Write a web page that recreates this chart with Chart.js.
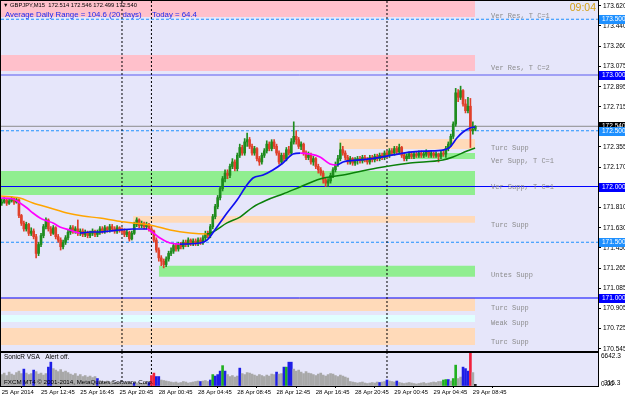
<!DOCTYPE html>
<html>
<head>
<meta charset="utf-8">
<title>GBPJPY,M15</title>
<script src="https://cdn.jsdelivr.net/npm/chart.js@4.4.1/dist/chart.umd.min.js"></script>
<style>
  body { margin: 0; background: #fff; }
  canvas { display: block; }
</style>
</head>
<body>
<canvas id="grafikHarga" width="625" height="352"></canvas>
<canvas id="grafikVolume" width="625" height="46"></canvas>
<script>
// Data candle M15 (index bar 0 = 25 Apr 08:45)
const firstOpen = 171.85;
const closes = [
  171.86,171.88,171.85,171.87,171.89,171.86,171.88,171.74,171.67,171.62,
  171.66,171.58,171.60,171.55,171.40,171.48,171.56,171.64,171.70,171.62,
  171.58,171.63,171.55,171.52,171.46,171.50,171.54,171.59,171.63,171.60,
  171.62,171.58,171.60,171.57,171.59,171.56,171.58,171.60,171.57,171.59,
  171.62,171.60,171.63,171.61,171.64,171.62,171.60,171.63,171.61,171.60,
  171.57,171.59,171.53,171.58,171.66,171.70,171.65,171.67,171.64,171.66,
  171.62,171.60,171.52,171.43,171.36,171.33,171.30,171.35,171.40,171.42,
  171.47,171.44,171.48,171.46,171.50,171.48,171.52,171.49,171.51,171.49,
  171.52,171.50,171.54,171.58,171.56,171.64,171.73,171.82,171.90,171.98,
  172.07,172.12,172.10,172.18,172.22,172.16,172.28,172.35,172.30,172.40,
  172.42,172.36,172.30,172.34,172.25,172.22,172.28,172.32,172.38,172.34,
  172.40,172.36,172.30,172.22,172.28,172.25,172.33,172.30,172.40,172.45,
  172.42,172.36,172.38,172.30,172.26,172.28,172.22,172.25,172.18,172.15,
  172.12,172.06,172.03,172.05,172.10,172.15,172.20,172.25,172.33,172.30,
  172.26,172.22,172.25,172.21,172.24,172.25,172.23,172.26,172.24,172.22,
  172.26,172.24,172.27,172.25,172.28,172.26,172.30,172.28,172.32,172.30,
  172.34,172.31,172.35,172.28,172.25,172.27,172.29,172.27,172.29,172.28,
  172.30,172.28,172.29,172.31,172.28,172.30,172.28,172.29,172.27,172.30,
  172.29,172.34,172.38,172.45,172.56,172.84,172.80,172.86,172.74,172.68,
  172.72,172.50,172.514,172.540
];
const highs = [
  171.89,171.90,171.89,171.89,171.91,171.90,171.90,171.89,171.75,171.69,
  171.68,171.67,171.63,171.62,171.57,171.50,171.58,171.66,171.72,171.71,
  171.64,171.65,171.64,171.57,171.54,171.52,171.56,171.61,171.65,171.65,
  171.64,171.70,171.62,171.62,171.61,171.60,171.60,171.62,171.61,171.61,
  171.64,171.64,171.65,171.64,171.66,171.66,171.64,171.65,171.64,171.63,
  171.62,171.61,171.60,171.60,171.68,171.72,171.71,171.69,171.68,171.68,
  171.67,171.64,171.61,171.54,171.45,171.38,171.35,171.37,171.42,171.45,
  171.49,171.49,171.50,171.50,171.52,171.52,171.54,171.53,171.53,171.53,
  171.54,171.54,171.56,171.60,171.60,171.66,171.75,171.84,171.92,172.00,
  172.09,172.15,172.15,172.20,172.25,172.24,172.30,172.38,172.37,172.43,
  172.48,172.44,172.38,172.36,172.35,172.27,172.30,172.34,172.41,172.40,
  172.42,172.42,172.38,172.32,172.30,172.30,172.35,172.36,172.43,172.58,
  172.50,172.44,172.40,172.39,172.32,172.31,172.30,172.27,172.26,172.20,
  172.17,172.14,172.08,172.07,172.12,172.17,172.22,172.28,172.39,172.36,
  172.32,172.28,172.27,172.26,172.26,172.27,172.27,172.28,172.28,172.26,
  172.28,172.28,172.29,172.29,172.30,172.30,172.32,172.32,172.34,172.34,
  172.36,172.36,172.38,172.36,172.30,172.29,172.31,172.31,172.31,172.31,
  172.32,172.32,172.31,172.33,172.32,172.32,172.31,172.31,172.30,172.32,
  172.33,172.36,172.40,172.47,172.58,172.88,172.87,172.90,172.87,172.78,
  172.80,172.79,172.58,172.546
];
const lows = [
  171.83,171.85,171.83,171.84,171.86,171.84,171.85,171.72,171.65,171.60,
  171.60,171.56,171.56,171.53,171.36,171.38,171.46,171.54,171.62,171.60,
  171.56,171.57,171.53,171.50,171.43,171.44,171.48,171.52,171.57,171.58,
  171.58,171.56,171.56,171.55,171.55,171.54,171.54,171.56,171.55,171.55,
  171.57,171.58,171.58,171.59,171.59,171.60,171.58,171.58,171.59,171.58,
  171.55,171.55,171.51,171.52,171.57,171.64,171.63,171.63,171.62,171.62,
  171.60,171.58,171.50,171.41,171.33,171.29,171.27,171.28,171.33,171.38,
  171.40,171.42,171.42,171.44,171.44,171.46,171.46,171.47,171.47,171.47,
  171.47,171.48,171.48,171.52,171.54,171.54,171.62,171.71,171.80,171.88,
  171.96,172.04,172.07,172.08,172.16,172.14,172.14,172.26,172.28,172.28,
  172.36,172.34,172.28,172.28,172.23,172.19,172.20,172.26,172.30,172.32,
  172.32,172.34,172.28,172.20,172.20,172.23,172.23,172.28,172.28,172.38,
  172.38,172.34,172.33,172.28,172.24,172.24,172.20,172.19,172.16,172.12,
  172.10,172.03,172.00,172.00,172.03,172.08,172.13,172.18,172.23,172.28,
  172.24,172.20,172.20,172.19,172.19,172.20,172.21,172.21,172.22,172.20,
  172.20,172.22,172.22,172.23,172.23,172.24,172.24,172.26,172.26,172.28,
  172.28,172.29,172.29,172.26,172.23,172.23,172.25,172.25,172.25,172.26,
  172.26,172.26,172.26,172.27,172.26,172.26,172.26,172.26,172.22,172.25,
  172.27,172.26,172.32,172.36,172.43,172.54,172.76,172.78,172.72,172.66,
  172.66,172.35,172.47,172.499
];

// Volume SonicR VSA
const volumes = [
  2300,2600,2100,2800,2400,2200,2700,3000,2500,3400,
  2600,2300,2500,3200,2900,2400,2600,2200,2500,3800,
  4800,3500,3200,2900,3300,2800,3000,2700,2400,2200,
  2500,2000,2300,1900,2100,1800,2000,1700,1900,1500,
  1100,900,800,1000,700,900,600,800,700,500,
  600,800,700,500,600,600,700,500,600,700,
  700,2100,2600,1900,1900,1200,1100,1000,900,800,
  700,800,600,700,900,800,600,700,800,900,
  1000,900,1000,1100,900,1200,2300,2000,2300,3000,
  4100,3000,2300,1900,2100,1800,2000,3600,2500,2300,
  2700,2600,2400,2200,2000,2300,2100,1900,2200,2000,
  2400,2300,2800,2400,2500,3800,3800,4800,4800,3400,
  3000,3200,2800,2500,2900,2600,2500,2300,2100,2400,
  2600,2200,2000,2300,2500,2400,2100,1900,2200,2000,
  1800,1600,900,800,700,600,700,800,600,500,
  600,700,600,800,700,800,900,1200,1000,900,
  800,1000,700,600,500,600,700,600,500,400,
  500,600,700,500,600,700,800,700,900,900,
  1200,1300,1300,1000,1500,4200,1500,1800,3800,3500,
  3000,6642.3,2700,316.3
];
// g = biasa, b = biru, n = hijau, r = merah, k = bar berjalan
const volKinds = [
  'gggggggggb','gggbgggggb','bggggggggg','gggggggggb','gggggggggg',
  'ggggbggggg','brrbbggggg','gggggggggg','gbgggbnbbb','nbgggggbgg',
  'gggggggggg','ggbggbnbbg','gggggggggg','gggggggggg','gggggggggg',
  'ggggbggbgg','gbgggggggg','gggggggggg','nnbgnnggbb','brgk'
].join('');
const volMax = 6642.3;

// Moving average
const fastMaBars = [-0.3,4.6,7.4,10.3,12.7,15.6,18.4,20.9,23.7,27.8,31.9,36.0,40.0,44.1,48.2,53.5,59.2,61.2,64.5,68.6,72.6,80.8,83.6,87.7,91.8,95.9,99.9,102.4,106.5,110.5,114.6,118.7,121.6,125.6,129.7,133.8,136.6,139.1,146.0,152.9,159.5,166.4,173.3,179.8,182.7,185.5,188.0,190.8,192.9];
const fastMaVals = [171.897,171.888,171.852,171.807,171.762,171.717,171.691,171.673,171.637,171.610,171.583,171.592,171.592,171.601,171.610,171.619,171.619,171.592,171.538,171.493,171.484,171.493,171.520,171.637,171.762,171.879,172.013,172.076,172.103,172.148,172.211,172.291,172.300,172.291,172.265,172.202,172.193,172.220,172.238,172.256,172.283,172.309,172.318,172.327,172.354,172.435,172.489,172.525,172.534];
const slowMaBars = [-0.3,7.4,12.7,19.7,26.6,33.1,40.0,47.0,53.5,60.4,68.6,76.7,83.6,86.1,91.8,97.1,102.4,108.1,114.6,121.6,129.7,139.1,152.9,166.4,179.8,183.9,189.6,192.9];
const slowMaVals = [171.915,171.897,171.852,171.807,171.762,171.735,171.717,171.691,171.673,171.655,171.610,171.583,171.574,171.592,171.673,171.726,171.816,171.879,171.933,171.996,172.067,172.103,172.166,172.211,172.238,172.265,172.318,172.345];

// Zona support / resistance
const zoneLow   = [173.52, 173.036, 172.336, 172.247, 171.924, 171.675, 171.19, 170.883, 170.785, 170.578];
const zoneHigh  = [173.70, 173.179, 172.426, 172.300, 172.140, 171.735, 171.29, 171.000, 170.848, 170.731];
const zoneStart = [-0.3, -0.3, 137.5, 163.5, -0.3, 53.5, 64.0, -0.3, -0.3, -0.3];
const zoneEnd   = 192.9;
const zoneColor = ['#FFC0CB','#FFC0CB','#FFDAB9','#90EE90','#90EE90','#FFDAB9','#90EE90','#FFDAB9','#E0FFFF','#FFDAB9'];
const zoneLabelText  = ['Ver Res, T C=1','Ver Res, T C=2','Turc Supp','Ver Supp, T C=1','Ver Supp, T C=1','Turc Supp','Untes Supp','Turc Supp','Weak Supp','Turc Supp'];
const zoneLabelPrice = [173.529, 173.063, 172.345, 172.229, 171.996, 171.655, 171.206, 170.906, 170.776, 170.605];

// Garis level harga
const levelPrices = [173.5, 173.0, 172.5, 172.0, 171.5, 171.0];
const levelSolid  = [false, true, false, true, false, true];
const bidPrice = 172.540;

const priceTicks = [173.620,173.440,173.260,173.075,172.895,172.715,172.535,172.355,172.170,171.990,171.810,171.630,171.450,171.265,171.085,170.905,170.725,170.545];
const priceMarks = [172.540, 173.5, 173.0, 172.5, 172.0, 171.5, 171.0];
const priceMarkColor = ['#000000','#1E90FF','#0000FF','#1E90FF','#0000FF','#1E90FF','#0000FF'];

const timeLabels = ['25 Apr 2014','25 Apr 12:45','25 Apr 16:45','25 Apr 20:45','28 Apr 00:45','28 Apr 04:45','28 Apr 08:45','28 Apr 12:45','28 Apr 16:45','28 Apr 20:45','29 Apr 00:45','29 Apr 04:45','29 Apr 08:45'];
const timeLabelBars = [0,16,32,48,64,80,96,112,128,144,160,176,192];
const separatorBars = [49, 61, 157];

const headerText = 'GBPJPY,M15  172.514 172.546 172.499 172.540';
const adrText = 'Average Daily Range = 104.6 (20 days)';
const todayText = 'Today = 64.4';
const clockText = '09:04';

const X_MIN = -0.31, X_MAX = 243.0;
const Y_MIN = 170.5247, Y_MAX = 173.6637;
const FONT = '"Liberation Sans", Arial, sans-serif';
const BG = '#E6E6FA';

const barIdx = closes.map((c, i) => i);
const opens = closes.map((c, i) => i === 0 ? firstOpen : closes[i - 1]);
const candleColor = closes.map((c, i) => c >= opens[i] ? '#1E8C1E' : '#E0402A');

// Dataset zona
const zoneSets = zoneLow.map((lo, i) => ({
  type: 'line',
  data: [{x: zoneStart[i], y: zoneHigh[i]}, {x: zoneEnd, y: zoneHigh[i]}],
  borderWidth: 0,
  pointRadius: 0,
  backgroundColor: zoneColor[i],
  fill: {value: lo},
  order: 20
}));

const levelSets = levelPrices.map((p, i) => ({
  type: 'line',
  data: [{x: X_MIN, y: p}, {x: X_MAX, y: p}],
  borderColor: levelSolid[i] ? (p === 173.0 ? '#5A5AF0' : '#0000FF') : '#1E90FF',
  borderWidth: 1,
  borderDash: levelSolid[i] ? [] : [3, 2],
  pointRadius: 0,
  fill: false,
  order: 15
}));

const separatorSets = (lo, hi) => separatorBars.map(b => ({
  type: 'line',
  data: [{x: b, y: lo}, {x: b, y: hi}],
  borderColor: '#000',
  borderWidth: 1,
  borderDash: [2, 2],
  pointRadius: 0,
  fill: false,
  order: 14
}));

const mainDecor = {
  id: 'mainDecor',
  beforeDraw(chart) {
    const {ctx, chartArea: a} = chart;
    ctx.save();
    ctx.fillStyle = '#fff';
    ctx.fillRect(0, 0, chart.width, chart.height);
    ctx.fillStyle = BG;
    ctx.fillRect(a.left, a.top, a.right - a.left, a.bottom - a.top);
    ctx.restore();
  },
  afterDraw(chart) {
    const {ctx, chartArea: a, scales: {y}} = chart;
    ctx.save();
    // label zona
    ctx.font = '7px "Liberation Mono", monospace';
    ctx.fillStyle = '#8C8C8C';
    ctx.textAlign = 'left';
    ctx.textBaseline = 'middle';
    zoneLabelText.forEach((t, i) => ctx.fillText(t, 491, y.getPixelForValue(zoneLabelPrice[i])));
    // bingkai
    ctx.strokeStyle = '#000';
    ctx.lineWidth = 1;
    ctx.strokeRect(a.left - 0.5, a.top - 0.5, a.right - a.left + 1, a.bottom - a.top + 1);
    // label harga di sumbu kanan
    ctx.font = '6.5px ' + FONT;
    priceMarks.forEach((p, i) => {
      const py = Math.round(y.getPixelForValue(p));
      ctx.fillStyle = priceMarkColor[i];
      ctx.fillRect(a.right + 1, py - 4, chart.width - a.right - 1, 9);
      ctx.fillStyle = '#fff';
      ctx.fillText(p.toFixed(3), a.right + 4, py + 0.5);
    });
    // header
    ctx.fillStyle = '#000';
    ctx.font = '5.5px ' + FONT;
    ctx.fillText('\u25BC', 3, 5.5);
    ctx.font = '5.8px ' + FONT;
    ctx.fillText(headerText, 10, 5.5);
    ctx.fillStyle = '#1E28F0';
    ctx.font = '7.8px ' + FONT;
    ctx.fillText(adrText, 5, 14.5);
    ctx.fillText(todayText, 152, 14.5);
    ctx.fillStyle = '#D4A017';
    ctx.font = '10.5px ' + FONT;
    ctx.textAlign = 'right';
    ctx.fillText(clockText, 596, 8);
    ctx.restore();
  }
};

const ctxHarga = document.getElementById('grafikHarga');
let grafikHarga = new Chart(ctxHarga, {
  type: 'bar',
  data: {
    datasets: [
      ...zoneSets,
      ...levelSets,
      ...separatorSets(Y_MIN, Y_MAX),
      {
        type: 'line',
        data: [{x: X_MIN, y: bidPrice}, {x: X_MAX, y: bidPrice}],
        borderColor: '#8C8C8C',
        borderWidth: 1,
        pointRadius: 0,
        fill: false,
        order: 13
      },
      {
        type: 'bar',
        data: barIdx.map(i => ({x: i, y: [lows[i], highs[i]]})),
        backgroundColor: candleColor,
        barThickness: 1,
        grouped: false,
        order: 6
      },
      {
        type: 'bar',
        data: barIdx.map(i => ({x: i, y: [Math.min(opens[i], closes[i]), Math.max(opens[i], closes[i])]})),
        backgroundColor: candleColor,
        barThickness: 2,
        grouped: false,
        order: 5
      },
      {
        type: 'line',
        data: slowMaBars.map((b, i) => ({x: b, y: slowMaVals[i]})),
        borderWidth: 1.5,
        pointRadius: 0,
        fill: false,
        cubicInterpolationMode: 'monotone',
        borderColor: '#008000',
        segment: { borderColor: c => c.p1.parsed.y < c.p0.parsed.y ? '#FFA500' : '#0A800A' },
        order: 3
      },
      {
        type: 'line',
        data: fastMaBars.map((b, i) => ({x: b, y: fastMaVals[i]})),
        borderWidth: 1.7,
        pointRadius: 0,
        fill: false,
        cubicInterpolationMode: 'monotone',
        borderColor: '#0000FF',
        segment: { borderColor: c => c.p1.parsed.y < c.p0.parsed.y ? '#FF00FF' : '#1010F0' },
        order: 2
      }
    ]
  },
  options: {
    responsive: false,
    animation: false,
    events: [],
    layout: { padding: {left: 1, top: 1, right: 0, bottom: 1} },
    plugins: { legend: {display: false}, tooltip: {enabled: false} },
    scales: {
      x: { type: 'linear', min: X_MIN, max: X_MAX, offset: false, display: false },
      y: {
        position: 'right',
        min: Y_MIN,
        max: Y_MAX,
        afterBuildTicks: s => { s.ticks = priceTicks.map(v => ({value: v})); },
        afterFit: s => { s.width = 27; s.paddingTop = 0; s.paddingBottom = 0; },
        ticks: { autoSkip: false, color: '#000', padding: 2, font: {family: FONT, size: 6.5}, callback: v => v.toFixed(3) },
        grid: { drawOnChartArea: false, drawTicks: true, tickLength: 3, color: '#000' },
        border: { display: true, color: '#000' }
      }
    }
  },
  plugins: [mainDecor]
});

// Grafik volume
const volColorMap = {g: '#A8A8A8', b: '#1E1EE6', n: '#20B020', r: '#F0203C', k: '#000000'};
const volDecor = {
  id: 'volDecor',
  beforeDraw(chart) {
    const {ctx, chartArea: a} = chart;
    ctx.save();
    ctx.fillStyle = '#fff';
    ctx.fillRect(0, 0, chart.width, chart.height);
    ctx.fillStyle = BG;
    ctx.fillRect(a.left, a.top, a.right - a.left, a.bottom - a.top);
    ctx.restore();
  },
  afterDraw(chart) {
    const {ctx, chartArea: a, scales: {y}} = chart;
    ctx.save();
    ctx.strokeStyle = '#000';
    ctx.lineWidth = 1;
    ctx.strokeRect(a.left - 0.5, a.top - 0.5, a.right - a.left + 1, a.bottom - a.top + 1);
    ctx.fillStyle = '#000';
    ctx.textAlign = 'left';
    ctx.textBaseline = 'middle';
    ctx.font = '6.5px ' + FONT;
    ctx.fillText('SonicR VSA   Alert off.', 4, 5);
    ctx.font = '6.2px ' + FONT;
    ctx.fillText('FXCM MT4 \u00A9 2001-2014, MetaQuotes Software Corp.', 4, 30);
    ctx.font = '6.5px ' + FONT;
    ctx.fillText(volMax.toFixed(1), a.right + 3, y.getPixelForValue(volMax) + 3);
    ctx.fillText('0.00', a.right + 3, y.getPixelForValue(0) - 2);
    ctx.fillText(volumes[volumes.length - 1].toFixed(1), a.right + 6, y.getPixelForValue(0) - 3);
    ctx.restore();
  }
};

const ctxVolume = document.getElementById('grafikVolume');
let grafikVolume = new Chart(ctxVolume, {
  type: 'bar',
  data: {
    datasets: [
      ...separatorSets(0, volMax),
      {
        type: 'bar',
        data: barIdx.map(i => ({x: i, y: volumes[i]})),
        backgroundColor: barIdx.map(i => volColorMap[volKinds[i]]),
        barThickness: 2,
        grouped: false,
        order: 5
      }
    ]
  },
  options: {
    responsive: false,
    animation: false,
    events: [],
    layout: { padding: {left: 1, top: 1, right: 0, bottom: 0} },
    plugins: { legend: {display: false}, tooltip: {enabled: false} },
    scales: {
      x: {
        type: 'linear', min: X_MIN, max: X_MAX, offset: false,
        afterBuildTicks: s => { s.ticks = timeLabelBars.map(v => ({value: v})); },
        afterFit: s => { s.height = 12; s.paddingLeft = 0; s.paddingRight = 0; },
        ticks: { autoSkip: false, maxRotation: 0, align: 'start', padding: 1, color: '#000', font: {family: FONT, size: 5.9}, callback: (v, i) => timeLabels[i] },
        grid: { drawOnChartArea: false, drawTicks: true, tickLength: 2, color: '#000' },
        border: { display: true, color: '#000' }
      },
      y: {
        position: 'right', min: 0, max: volMax,
        afterFit: s => { s.width = 27; s.paddingTop = 0; s.paddingBottom = 0; },
        ticks: { display: false },
        grid: { drawOnChartArea: false, drawTicks: false },
        border: { display: true, color: '#000' }
      }
    }
  },
  plugins: [volDecor]
});
</script>
</body>
</html>
